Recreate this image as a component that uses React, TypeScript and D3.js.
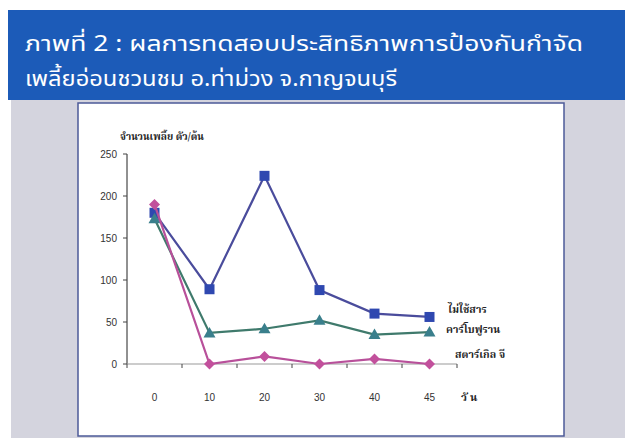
import React from "react";
import * as d3 from "d3";

const days = ["0", "10", "20", "30", "40", "45"];
const noChemical = [180, 89, 224, 88, 60, 56];
const carbofuran = [173, 37, 42, 52, 35, 38];
const starkleG = [190, 0, 9, 0, 6, 0];
const yTicks = [0, 50, 100, 150, 200, 250];

const seriesNames = ["ไม่ใช้สาร", "คาร์โบฟูราน", "สตาร์เกิล จี"];

const W = 625;
const H = 438;

const x = d3.scaleBand<string>().domain(days).range([127, 457]);
const y = d3.scaleLinear().domain([0, 250]).range([364, 154]);

const thaiFont = "'Noto Sans Thai', 'Noto Sans', 'DejaVu Sans', sans-serif";
const thaiSerif = "'Noto Serif Thai', 'DejaVu Serif', serif";

const series = [
  { name: seriesNames[0], values: noChemical, line: "#4a4c9c", mark: "#2f48b0", shape: "square", lx: 448, ly: 313 },
  { name: seriesNames[1], values: carbofuran, line: "#3f7a6c", mark: "#3a7f8c", shape: "triangle", lx: 446, ly: 333 },
  { name: seriesNames[2], values: starkleG, line: "#b8509a", mark: "#c2509c", shape: "diamond", lx: 455, ly: 358 },
];

const Marker: React.FC<{ shape: string; cx: number; cy: number; fill: string }> = ({
  shape,
  cx,
  cy,
  fill,
}) => {
  if (shape === "square")
    return <rect x={cx - 5} y={cy - 5} width={10} height={10} fill={fill} />;
  if (shape === "triangle")
    return (
      <path
        d={`M${cx},${cy - 6}L${cx + 6},${cy + 4.5}L${cx - 6},${cy + 4.5}Z`}
        fill={fill}
      />
    );
  return (
    <path
      d={`M${cx},${cy - 5.5}L${cx + 5.5},${cy}L${cx},${cy + 5.5}L${cx - 5.5},${cy}Z`}
      fill={fill}
    />
  );
};

export default function App() {
  const line = d3
    .line<number>()
    .x((_, i) => (x(days[i]) ?? 0) + x.bandwidth() / 2)
    .y((v) => y(v));

  const xEdges = days.map((d) => x(d) ?? 0).concat([x.range()[1]]);

  return (
    <svg
      width={W}
      height={H}
      style={{ position: "absolute", left: 0, top: 0, background: "#fff" }}
    >
      {/* header band */}
      <rect x={8} y={10} width={W - 8} height={90} fill="#1c5bb8" />
      <text
        x={25}
        y={51}
        fill="#fff"
        fontSize={22}
        fontFamily={thaiFont}
        textLength={558}
        lengthAdjust="spacingAndGlyphs"
      >
        ภาพที่ 2 : ผลการทดสอบประสิทธิภาพการป้องกันกำจัด
      </text>
      <text
        x={25}
        y={86}
        fill="#fff"
        fontSize={22}
        fontFamily={thaiFont}
        textLength={372}
        lengthAdjust="spacingAndGlyphs"
      >
        เพลี้ยอ่อนชวนชม อ.ท่าม่วง จ.กาญจนบุรี
      </text>

      {/* backdrop */}
      <rect x={11} y={100} width={W - 11} height={H - 100} fill="#d4d4de" />
      <rect x={78} y={103} width={486} height={333} fill="#fff" stroke="#4c5a98" strokeWidth={1.5} />

      {/* y axis */}
      <line x1={127} x2={127} y1={y(250)} y2={y(0)} stroke="#222" strokeWidth={1} />
      {yTicks.map((t) => (
        <g key={t}>
          <line x1={123} x2={127} y1={y(t)} y2={y(t)} stroke="#444" />
          <text
            x={117}
            y={y(t) + 3.5}
            textAnchor="end"
            fontSize={10}
            fill="#333"
            fontFamily="'Liberation Sans', Arial, sans-serif"
          >
            {t}
          </text>
        </g>
      ))}
      <text x={120} y={140} fontSize={10} fontWeight="bold" fill="#222" fontFamily={thaiSerif}>
        จำนวนเพลี้ย ตัว/ต้น
      </text>

      {/* x axis */}
      <line x1={127} x2={457} y1={y(0)} y2={y(0)} stroke="#999" strokeWidth={1.2} />
      {xEdges.map((e, i) => (
        <line key={i} x1={e} x2={e} y1={y(0)} y2={y(0) + 4} stroke="#444" />
      ))}
      {days.map((d) => (
        <text
          key={d}
          x={(x(d) ?? 0) + x.bandwidth() / 2}
          y={401}
          textAnchor="middle"
          fontSize={10}
          fill="#333"
          fontFamily="'Liberation Sans', Arial, sans-serif"
        >
          {d}
        </text>
      ))}
      <text x={461} y={401} fontSize={11} fontWeight="bold" fill="#222" fontFamily={thaiSerif} letterSpacing={3}>
        วัน
      </text>

      {/* series */}
      {series.map((s) => (
        <g key={s.name}>
          <path d={line(s.values) ?? ""} fill="none" stroke={s.line} strokeWidth={2.2} />
          {s.values.map((v, i) => (
            <Marker
              key={i}
              shape={s.shape}
              cx={(x(days[i]) ?? 0) + x.bandwidth() / 2}
              cy={y(v)}
              fill={s.mark}
            />
          ))}
          <text x={s.lx} y={s.ly} fontSize={10.5} fontWeight="bold" fill="#222" fontFamily={thaiSerif}>
            {s.name}
          </text>
        </g>
      ))}
    </svg>
  );
}
